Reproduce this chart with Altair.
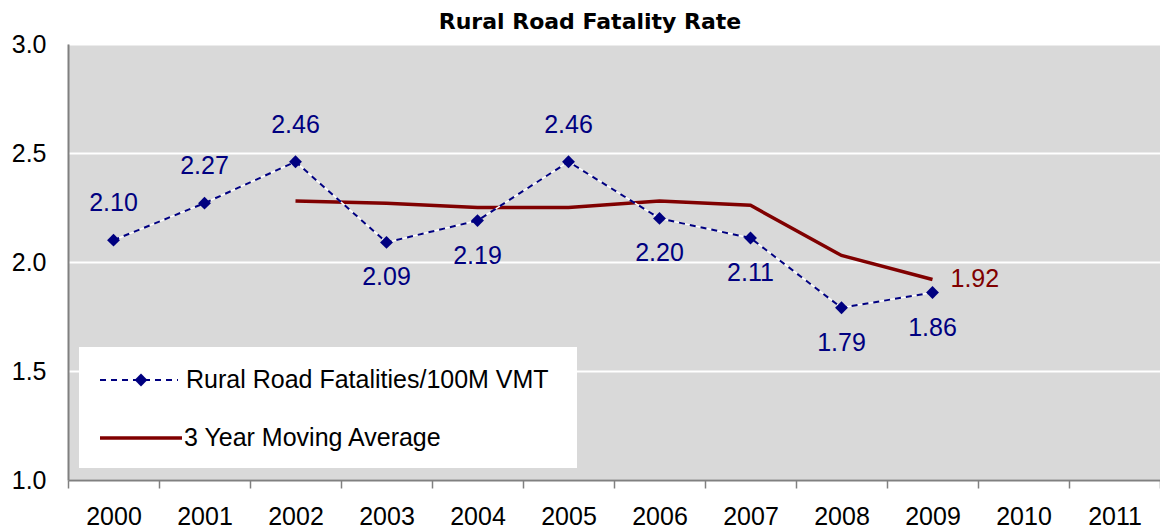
import altair as alt
import pandas as pd

# ---- data ----
years = ["2000", "2001", "2002", "2003", "2004", "2005",
         "2006", "2007", "2008", "2009", "2010", "2011"]
rate_years = ["2000", "2001", "2002", "2003", "2004",
              "2005", "2006", "2007", "2008", "2009"]
rates = [2.10, 2.27, 2.46, 2.09, 2.19, 2.46, 2.20, 2.11, 1.79, 1.86]
label_side = ["above", "above", "above", "below", "below",
              "above", "below", "below", "below", "below"]
ma_years = ["2002", "2003", "2004", "2005", "2006", "2007", "2008", "2009"]
ma_values = [2.28, 2.27, 2.25, 2.25, 2.28, 2.26, 2.03, 1.92]
y_ticks = [1.0, 1.5, 2.0, 2.5, 3.0]

series_name = "Rural Road Fatalities/100M VMT"
ma_name = "3 Year Moving Average"
title_text = "Rural Road Fatality Rate"

NAVY = "#000080"
MAROON = "#800000"
BG = "#d9d9d9"
AXIS = "#808080"
FONT = "Liberation Sans"
FS = 25

rate_df = pd.DataFrame({"year": rate_years, "value": rates, "side": label_side})
ma_df = pd.DataFrame({"year": ma_years, "value": ma_values})

xscale = alt.Scale(type="band", domain=years, paddingInner=0, paddingOuter=0)
yscale = alt.Scale(domain=[1, 3], nice=False, zero=False)

x_enc = alt.X("year:N", scale=xscale, axis=alt.Axis(
    title=None, labelAngle=0, tickBand="extent", grid=False,
    domainColor=AXIS, domainWidth=2, tickColor=AXIS, tickSize=8, tickWidth=1.5,
    labelFont=FONT, labelFontSize=FS, labelColor="black", labelPadding=16))
y_enc = alt.Y("value:Q", scale=yscale, axis=alt.Axis(
    title=None, values=y_ticks, format=".1f", ticks=False, tickSize=0,
    labelPadding=22, domainColor=AXIS, domainWidth=2,
    grid=True, gridColor="white", gridWidth=2,
    labelFont=FONT, labelFontSize=FS, labelColor="black"))

rate_base = alt.Chart(rate_df).encode(x=x_enc, y=y_enc)
ma_base = alt.Chart(ma_df).encode(x=x_enc, y=y_enc)

ma_line = ma_base.mark_line(color=MAROON, strokeWidth=3.5)
rate_under = rate_base.mark_line(color="white", strokeWidth=1.5)
rate_line = rate_base.mark_line(color=NAVY, strokeWidth=2, strokeDash=[6, 5])
rate_pts = rate_base.mark_point(shape="diamond", filled=True, color=NAVY,
                                size=165, opacity=1)

lbl_above = rate_base.transform_filter(alt.datum.side == "above").mark_text(
    dy=-37, font=FONT, fontSize=FS, color=NAVY, baseline="middle"
).encode(text=alt.Text("value:Q", format=".2f"))
lbl_below = rate_base.transform_filter(alt.datum.side == "below").mark_text(
    dy=35, font=FONT, fontSize=FS, color=NAVY, baseline="middle"
).encode(text=alt.Text("value:Q", format=".2f"))
lbl_ma = ma_base.transform_filter(alt.datum.year == ma_years[-1]).mark_text(
    dx=18, align="left", font=FONT, fontSize=FS, color=MAROON, baseline="middle"
).encode(text=alt.Text("value:Q", format=".2f"))

# ---- manual legend ----
one = alt.Data(values=[{"k": 1}])
leg_box = alt.Chart(one).mark_rect(fill="white").encode(
    x=alt.value(11), x2=alt.value(509), y=alt.value(303), y2=alt.value(424))
leg_l1w = alt.Chart(one).mark_rule(color="white", strokeWidth=1.5).encode(
    x=alt.value(32), x2=alt.value(110), y=alt.value(336))
leg_l1 = alt.Chart(one).mark_rule(color=NAVY, strokeWidth=2, strokeDash=[6, 5]).encode(
    x=alt.value(32), x2=alt.value(110), y=alt.value(336))
leg_p1 = alt.Chart(one).mark_point(shape="diamond", filled=True, color=NAVY,
                                   size=165, opacity=1).encode(
    x=alt.value(73), y=alt.value(336))
leg_t1 = alt.Chart(one).mark_text(align="left", baseline="middle", font=FONT,
                                  fontSize=FS, color="black").encode(
    x=alt.value(118), y=alt.value(336), text=alt.value(series_name))
leg_l2 = alt.Chart(one).mark_rule(color=MAROON, strokeWidth=3.5).encode(
    x=alt.value(32), x2=alt.value(114), y=alt.value(394))
leg_t2 = alt.Chart(one).mark_text(align="left", baseline="middle", font=FONT,
                                  fontSize=FS, color="black").encode(
    x=alt.value(116), y=alt.value(394), text=alt.value(ma_name))

chart = alt.layer(
    ma_line, rate_under, rate_line, rate_pts, lbl_above, lbl_below, lbl_ma,
    leg_box, leg_l1w, leg_l1, leg_p1, leg_t1, leg_l2, leg_t2
).properties(
    width=1092, height=436,
    autosize=alt.AutoSizeParams(type="none"),
    padding={"left": 60, "top": 36, "right": 0, "bottom": 51},
    title=alt.TitleParams(title_text, font="DejaVu Sans", fontSize=22,
                          fontWeight="bold", color="black", anchor="middle",
                          offset=0, dy=2, dx=-24),
).configure_view(fill=BG, strokeWidth=0)

chart.save("out.html", embed_options={"renderer": "svg", "actions": False})
